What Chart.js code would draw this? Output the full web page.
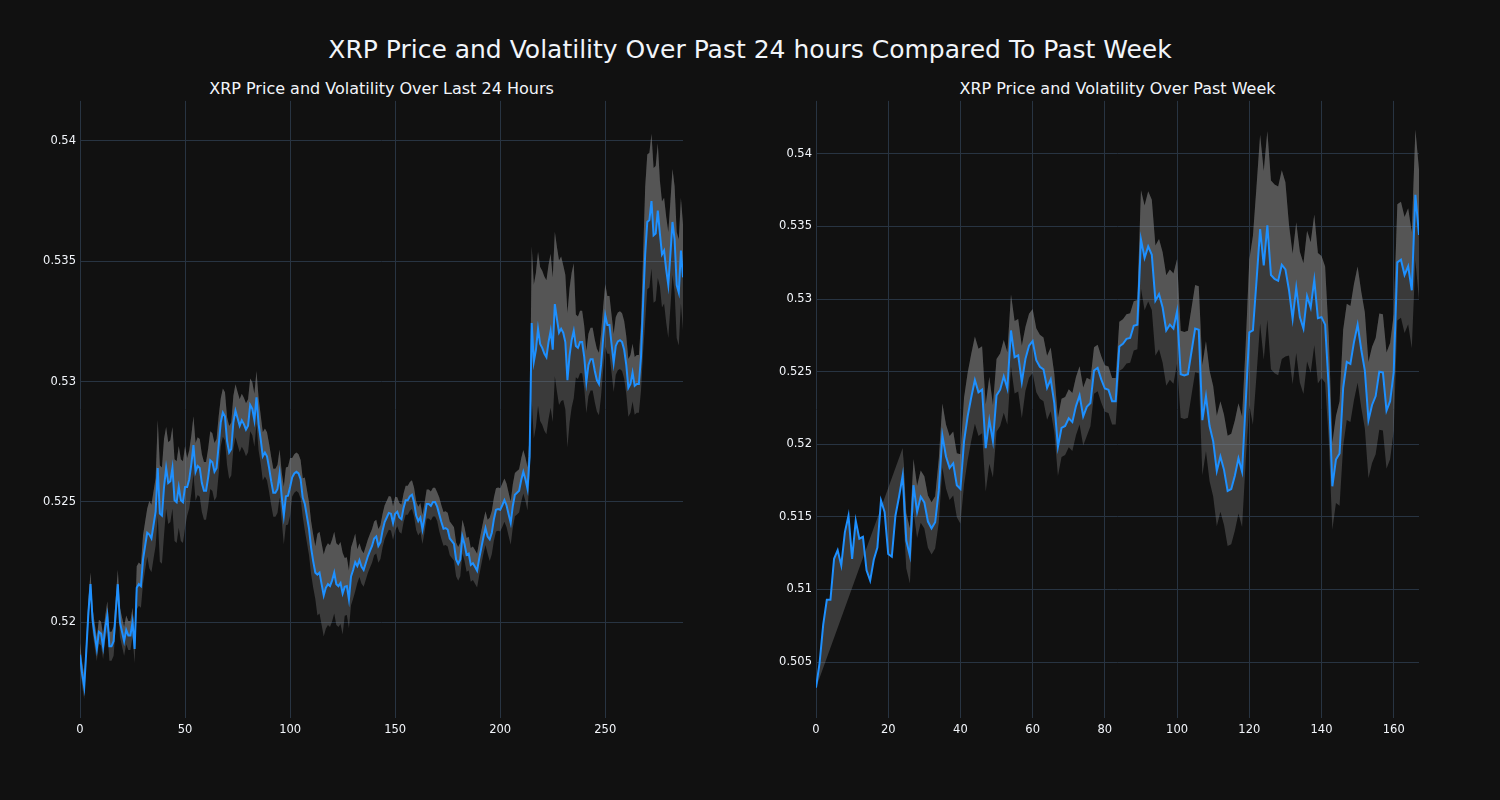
<!DOCTYPE html>
<html lang="en">
<head>
<meta charset="UTF-8" />
<title>XRP Price and Volatility</title>
<script src="https://cdn.jsdelivr.net/npm/chart.js"></script>
<style>
  body {
    margin: 0;
    width: 1500px;
    height: 800px;
    overflow: hidden;
    position: relative;
    background: #111111;
    color: #f2f5fa;
    font-family: 'DejaVu Sans', sans-serif;
  }
  .title {
    position: absolute;
    left: 0;
    top: 34px;
    width: 1500px;
    text-align: center;
    font-size: 25px;
    line-height: 32px;
    white-space: nowrap;
  }
  .sub {
    position: absolute;
    top: 78px;
    width: 603px;
    text-align: center;
    font-size: 16px;
    line-height: 22px;
    white-space: nowrap;
  }
  canvas { position: absolute; top: 90px; }
</style>
</head>
<body>

<div class="title">XRP Price and Volatility Over Past 24 hours Compared To Past Week</div>
<div class="sub" style="left:80px">XRP Price and Volatility Over Last 24 Hours</div>
<div class="sub" style="left:816px">XRP Price and Volatility Over Past Week</div>
<canvas id="dayChart" width="700" height="660" style="left:0px"></canvas>
<canvas id="weekChart" width="700" height="660" style="left:736px"></canvas>

<script>
// last 24 hours, 5-minute steps
const dayPrice = [
  0.51865, 0.51786, 0.51731, 0.51881, 0.52040, 0.52158, 0.52008, 0.51945, 0.51889, 0.51960,
  0.51953, 0.51897, 0.51976, 0.52027, 0.51900, 0.51900, 0.51921, 0.52040, 0.52158, 0.52000,
  0.51960, 0.51921, 0.51968, 0.51945, 0.51945, 0.52000, 0.51889, 0.52143, 0.52158, 0.52150,
  0.52261, 0.52317, 0.52372, 0.52364, 0.52348, 0.52404, 0.52459, 0.52641, 0.52451, 0.52443,
  0.52562, 0.52641, 0.52578, 0.52586, 0.52641, 0.52507, 0.52499, 0.52562, 0.52507, 0.52499,
  0.52562, 0.52562, 0.52594, 0.52657, 0.52736, 0.52625, 0.52649, 0.52641, 0.52578, 0.52546,
  0.52546, 0.52602, 0.52673, 0.52665, 0.52625, 0.52641, 0.52736, 0.52831, 0.52871, 0.52855,
  0.52752, 0.52705, 0.52720, 0.52831, 0.52879, 0.52847, 0.52816, 0.52839, 0.52823, 0.52800,
  0.52816, 0.52903, 0.52887, 0.52839, 0.52934, 0.52823, 0.52760, 0.52689, 0.52705, 0.52689,
  0.52641, 0.52586, 0.52538, 0.52538, 0.52554, 0.52618, 0.52523, 0.52443, 0.52523, 0.52526,
  0.52562, 0.52602, 0.52618, 0.52625, 0.52618, 0.52594, 0.52518, 0.52491, 0.52440, 0.52388,
  0.52309, 0.52253, 0.52206, 0.52198, 0.52206, 0.52158, 0.52111, 0.52143, 0.52158, 0.52150,
  0.52174, 0.52206, 0.52158, 0.52150, 0.52163, 0.52119, 0.52147, 0.52150, 0.52095, 0.52190,
  0.52217, 0.52249, 0.52233, 0.52258, 0.52230, 0.52217, 0.52245, 0.52274, 0.52296, 0.52317,
  0.52348, 0.52356, 0.52317, 0.52333, 0.52380, 0.52416, 0.52435, 0.52454, 0.52451, 0.52412,
  0.52451, 0.52459, 0.52435, 0.52428, 0.52475, 0.52507, 0.52507, 0.52523, 0.52530, 0.52499,
  0.52443, 0.52420, 0.52435, 0.52385, 0.52435, 0.52491, 0.52491, 0.52483, 0.52499, 0.52499,
  0.52480, 0.52448, 0.52416, 0.52388, 0.52391, 0.52385, 0.52348, 0.52337, 0.52325, 0.52261,
  0.52242, 0.52261, 0.52356, 0.52325, 0.52280, 0.52285, 0.52238, 0.52245, 0.52230, 0.52214,
  0.52264, 0.52309, 0.52353, 0.52391, 0.52356, 0.52344, 0.52372, 0.52428, 0.52467, 0.52470,
  0.52467, 0.52486, 0.52507, 0.52486, 0.52448, 0.52412, 0.52483, 0.52530, 0.52538, 0.52546,
  0.52591, 0.52625, 0.52594, 0.52554, 0.52689, 0.53243, 0.53082, 0.53132, 0.53219, 0.53156,
  0.53140, 0.53116, 0.53101, 0.53164, 0.53211, 0.53132, 0.53322, 0.53259, 0.53203, 0.53219,
  0.53203, 0.53164, 0.53006, 0.53108, 0.53172, 0.53211, 0.53148, 0.53140, 0.53164, 0.53164,
  0.53101, 0.52998, 0.53069, 0.53093, 0.53093, 0.53045, 0.53006, 0.52990, 0.53069, 0.53180,
  0.53275, 0.53235, 0.53235, 0.53156, 0.53077, 0.53148, 0.53167, 0.53172, 0.53164, 0.53132,
  0.53069, 0.52974, 0.52990, 0.53037, 0.52982, 0.52990, 0.52990, 0.53101, 0.53322, 0.53528,
  0.53663, 0.53671, 0.53750, 0.53607, 0.53615, 0.53710, 0.53615, 0.53528, 0.53544, 0.53465,
  0.53401, 0.53528, 0.53663, 0.53591, 0.53401, 0.53370, 0.53544, 0.53433
];

// half-width of the grey volatility band, per point
const dayVol = [
  0.0005, 0.0005, 0.0005, 0.0005, 0.0005, 0.0005, 0.0005, 0.0005, 0.0005, 0.0005,
  0.0005, 0.0005, 0.0005, 0.0006, 0.0006, 0.0006, 0.0006, 0.0006, 0.0006, 0.0006,
  0.0006, 0.0006, 0.0006, 0.0006, 0.0006, 0.0006, 0.0006, 0.0009, 0.0009, 0.0009,
  0.0010, 0.0010, 0.0010, 0.0014, 0.0014, 0.0014, 0.0014, 0.0020, 0.0020, 0.0020,
  0.0020, 0.0017, 0.0017, 0.0017, 0.0017, 0.0017, 0.0017, 0.0017, 0.0017, 0.0017,
  0.0017, 0.0012, 0.0012, 0.0012, 0.0012, 0.0012, 0.0012, 0.0012, 0.0012, 0.0012,
  0.0012, 0.0012, 0.0012, 0.0012, 0.0012, 0.0012, 0.0012, 0.0010, 0.0010, 0.0010,
  0.0010, 0.0011, 0.0011, 0.0011, 0.0011, 0.0011, 0.0011, 0.0011, 0.0011, 0.0011,
  0.0011, 0.0011, 0.0011, 0.0011, 0.0011, 0.0011, 0.0010, 0.0010, 0.0010, 0.0010,
  0.0010, 0.0010, 0.0010, 0.0010, 0.0010, 0.0010, 0.0010, 0.0012, 0.0012, 0.0012,
  0.0012, 0.0008, 0.0008, 0.0008, 0.0008, 0.0008, 0.0008, 0.0011, 0.0011, 0.0011,
  0.0011, 0.0011, 0.0011, 0.0017, 0.0017, 0.0017, 0.0017, 0.0017, 0.0017, 0.0017,
  0.0017, 0.0017, 0.0017, 0.0017, 0.0017, 0.0017, 0.0012, 0.0012, 0.0012, 0.0012,
  0.0012, 0.0012, 0.0007, 0.0007, 0.0007, 0.0007, 0.0007, 0.0007, 0.0007, 0.0007,
  0.0007, 0.0007, 0.0007, 0.0007, 0.0007, 0.0007, 0.0007, 0.0007, 0.0007, 0.0007,
  0.0007, 0.0006, 0.0006, 0.0006, 0.0006, 0.0006, 0.0006, 0.0006, 0.0006, 0.0006,
  0.0006, 0.0006, 0.0006, 0.0006, 0.0006, 0.0006, 0.0006, 0.0006, 0.0006, 0.0006,
  0.0006, 0.0007, 0.0007, 0.0007, 0.0007, 0.0007, 0.0007, 0.0007, 0.0007, 0.0007,
  0.0007, 0.0007, 0.0007, 0.0007, 0.0007, 0.0007, 0.0007, 0.0007, 0.0007, 0.0007,
  0.0007, 0.0007, 0.0007, 0.0007, 0.0007, 0.0009, 0.0009, 0.0009, 0.0009, 0.0009,
  0.0009, 0.0009, 0.0009, 0.0009, 0.0009, 0.0009, 0.0009, 0.0009, 0.0009, 0.0009,
  0.0009, 0.0009, 0.0009, 0.0009, 0.0009, 0.0032, 0.0032, 0.0032, 0.0032, 0.0032,
  0.0032, 0.0032, 0.0032, 0.0032, 0.0032, 0.0030, 0.0030, 0.0030, 0.0030, 0.0030,
  0.0028, 0.0028, 0.0028, 0.0028, 0.0028, 0.0028, 0.0013, 0.0013, 0.0013, 0.0013,
  0.0013, 0.0013, 0.0013, 0.0013, 0.0013, 0.0013, 0.0013, 0.0013, 0.0013, 0.0013,
  0.0013, 0.0012, 0.0012, 0.0012, 0.0012, 0.0012, 0.0012, 0.0012, 0.0012, 0.0012,
  0.0012, 0.0012, 0.0012, 0.0012, 0.0012, 0.0012, 0.0012, 0.0014, 0.0020, 0.0028,
  0.0028, 0.0028, 0.0028, 0.0028, 0.0028, 0.0028, 0.0022, 0.0022, 0.0022, 0.0022,
  0.0022, 0.0022, 0.0022, 0.0022, 0.0022, 0.0022, 0.0022, 0.0022
];

// past week, hourly
const weekPrice = [
  0.50324, 0.50495, 0.50758, 0.50929, 0.50929, 0.51211, 0.51271, 0.51166, 0.51395, 0.51508,
  0.51211, 0.51474, 0.51350, 0.51363, 0.51132, 0.51061, 0.51205, 0.51289, 0.51613, 0.51534,
  0.51245, 0.51226, 0.51508, 0.51639, 0.51784, 0.51337, 0.51232, 0.51718, 0.51534, 0.51639,
  0.51600, 0.51468, 0.51421, 0.51463, 0.51679, 0.52061, 0.51916, 0.51837, 0.51868, 0.51718,
  0.51692, 0.52021, 0.52192, 0.52324, 0.52442, 0.52358, 0.52376, 0.51974, 0.52166, 0.52021,
  0.52337, 0.52376, 0.52468, 0.52384, 0.52784, 0.52600, 0.52613, 0.52429, 0.52587, 0.52679,
  0.52711, 0.52579, 0.52534, 0.52516, 0.52389, 0.52447, 0.52284, 0.51982, 0.52113, 0.52126,
  0.52179, 0.52153, 0.52263, 0.52337, 0.52192, 0.52258, 0.52284, 0.52508, 0.52526, 0.52447,
  0.52384, 0.52376, 0.52297, 0.52297, 0.52674, 0.52692, 0.52726, 0.52732, 0.52816, 0.52824,
  0.53411, 0.53284, 0.53363, 0.53305, 0.52989, 0.53034, 0.52942, 0.52784, 0.52824, 0.52797,
  0.52916, 0.52482, 0.52474, 0.52482, 0.52639, 0.52797, 0.52789, 0.52166, 0.52332, 0.52126,
  0.52021, 0.51816, 0.51916, 0.51824, 0.51679, 0.51692, 0.51784, 0.51903, 0.51811, 0.52284,
  0.52771, 0.52784, 0.53126, 0.53482, 0.53232, 0.53508, 0.53166, 0.53139, 0.53126, 0.53237,
  0.53205, 0.53061, 0.52863, 0.53079, 0.52876, 0.52797, 0.53021, 0.52942, 0.53132, 0.52868,
  0.52876, 0.52824, 0.52389, 0.51711, 0.51895, 0.51937, 0.52389, 0.52568, 0.52553, 0.52705,
  0.52824, 0.52653, 0.52508, 0.52166, 0.52271, 0.52332, 0.52500, 0.52495, 0.52232, 0.52297,
  0.52495, 0.53253, 0.53271, 0.53166, 0.53226, 0.53061, 0.53718, 0.53442
];

// band starts once the rolling window is full
const weekVol = [
  null, null, null, null, null, null, null, null, null, null,
  null, null, null, null, null, null, null, null, null, null,
  null, null, null, null, 0.0019, 0.0019, 0.0019, 0.0018, 0.0018, 0.0018,
  0.0018, 0.0018, 0.0018, 0.0018, 0.0022, 0.0022, 0.0022, 0.0022, 0.0022, 0.0022,
  0.0024, 0.0030, 0.0030, 0.0030, 0.0030, 0.0030, 0.0030, 0.0030, 0.0030, 0.0025,
  0.0025, 0.0025, 0.0025, 0.0025, 0.0025, 0.0025, 0.0025, 0.0025, 0.0022, 0.0022,
  0.0022, 0.0022, 0.0022, 0.0022, 0.0022, 0.0022, 0.0020, 0.0020, 0.0020, 0.0020,
  0.0020, 0.0020, 0.0020, 0.0020, 0.0020, 0.0020, 0.0016, 0.0016, 0.0016, 0.0016,
  0.0016, 0.0016, 0.0016, 0.0016, 0.0017, 0.0017, 0.0017, 0.0017, 0.0017, 0.0017,
  0.0034, 0.0036, 0.0038, 0.0038, 0.0038, 0.0038, 0.0038, 0.0038, 0.0038, 0.0038,
  0.0036, 0.0030, 0.0030, 0.0030, 0.0030, 0.0030, 0.0030, 0.0038, 0.0038, 0.0038,
  0.0038, 0.0038, 0.0038, 0.0038, 0.0038, 0.0038, 0.0038, 0.0038, 0.0038, 0.0040,
  0.0050, 0.0065, 0.0065, 0.0065, 0.0065, 0.0065, 0.0065, 0.0065, 0.0065, 0.0065,
  0.0060, 0.0045, 0.0045, 0.0045, 0.0045, 0.0045, 0.0045, 0.0045, 0.0045, 0.0045,
  0.0042, 0.0040, 0.0036, 0.0030, 0.0030, 0.0036, 0.0040, 0.0040, 0.0040, 0.0040,
  0.0040, 0.0040, 0.0040, 0.0040, 0.0040, 0.0040, 0.0040, 0.0040, 0.0040, 0.0040,
  0.0040, 0.0040, 0.0040, 0.0040, 0.0040, 0.0040, 0.0045, 0.0045
];

const dayXTicks = [0, 50, 100, 150, 200, 250];
const weekXTicks = [0, 20, 40, 60, 80, 100, 120, 140, 160];
const dayYTicks = [0.52, 0.525, 0.53, 0.535, 0.54];
const weekYTicks = [0.505, 0.51, 0.515, 0.52, 0.525, 0.53, 0.535, 0.54];

const GRID = '#283442';
const TEXT = '#f2f5fa';
const BAND = 'rgba(138,138,138,0.34)';
const CLEAR = 'rgba(0,0,0,0)';

Chart.defaults.font.family = "'DejaVu Sans', sans-serif";

function drawPanel(id, price, vol, xMax, xTicks, yMin, yMax, yTicks) {
  const line = price.map((y, i) => ({ x: i, y: y }));
  const upper = [];
  const lower = [];
  vol.forEach((w, i) => {
    if (w === null) return;
    upper.push({ x: i, y: price[i] + w });
    lower.push({ x: i, y: price[i] - w });
  });
  // plotly's tonexty joins the first price point to the first band point
  if (vol[0] === null) upper.unshift({ x: 0, y: price[0] });

  new Chart(document.getElementById(id), {
    type: 'line',
    data: {
      datasets: [
        { data: line, borderColor: '#1E90FF', borderWidth: 2, pointRadius: 0, fill: false, tension: 0 },
        { data: upper, borderColor: CLEAR, borderWidth: 1, pointRadius: 0, backgroundColor: BAND, fill: '-1', tension: 0 },
        { data: lower, borderColor: CLEAR, borderWidth: 1, pointRadius: 0, backgroundColor: BAND, fill: '-1', tension: 0 }
      ]
    },
    options: {
      responsive: false,
      animation: false,
      devicePixelRatio: 1,
      layout: { padding: { top: 10, right: 17, left: 0, bottom: 0 } },
      plugins: {
        legend: { display: false },
        tooltip: { enabled: false }
      },
      scales: {
        x: {
          type: 'linear',
          min: 0,
          max: xMax,
          afterBuildTicks: s => { s.ticks = xTicks.map(v => ({ value: v })); },
          afterFit: s => { s.height = 32; },
          ticks: { color: TEXT, font: { size: 11.5 }, padding: 5, maxRotation: 0, autoSkip: false },
          grid: { color: GRID, drawTicks: false },
          border: { display: false }
        },
        y: {
          type: 'linear',
          min: yMin,
          max: yMax,
          afterBuildTicks: s => { s.ticks = yTicks.map(v => ({ value: v })); },
          afterFit: s => { s.width = 80; },
          ticks: { color: TEXT, font: { size: 11.5 }, padding: 4, callback: v => String(v) },
          grid: { color: GRID, drawTicks: false },
          border: { display: false }
        }
      }
    }
  });
}

drawPanel('dayChart', dayPrice, dayVol, 287, dayXTicks, 0.51602, 0.54166, dayYTicks);
drawPanel('weekChart', weekPrice, weekVol, 167, weekXTicks, 0.50115, 0.54365, weekYTicks);
</script>
</body>
</html>
